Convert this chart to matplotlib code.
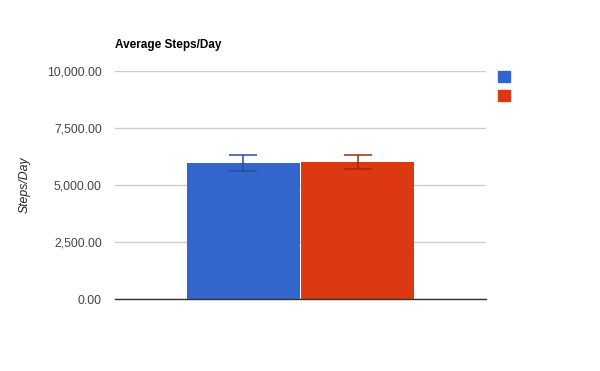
import matplotlib
matplotlib.use("Agg")
import matplotlib.pyplot as plt
from matplotlib.ticker import FuncFormatter

plt.rcParams['font.family'] = ['Liberation Sans', 'DejaVu Sans']

series_names = ["", ""]
means = [5965, 6010]
errors = [333, 320]
bar_colors = ["#3366cc", "#dc3912"]
err_colors = ["#2a4d96", "#a3280c"]
yticks = [0, 2500, 5000, 7500, 10000]

fig = plt.figure(figsize=(6, 3.71), dpi=100)
ax = fig.add_axes([115 / 600, 1 - 299 / 371, 371 / 600, 228 / 371])

width = 113 / 371
xs = [-width / 2 - 0.0015, width / 2 + 0.0015]
for x, m, e, c, ec, name in zip(xs, means, errors, bar_colors, err_colors, series_names):
    ax.bar(x, m, width=width, color=c, label=name, zorder=2)
    ax.errorbar(x, m, yerr=e, fmt='none', ecolor=ec, elinewidth=1.1,
                capsize=10, capthick=1.1, zorder=3)

ax.set_xlim(-0.5, 0.5)
ax.set_ylim(0, 10000)
ax.set_yticks(yticks)
ax.yaxis.set_major_formatter(FuncFormatter(lambda v, p: f"{v:,.2f}"))
ax.tick_params(axis='y', length=0, pad=9.5, labelsize=8.8, labelcolor='#444444')
ax.set_xticks([])
ax.grid(axis='y', color='#cccccc', linewidth=1, zorder=0)
for s in ['top', 'right', 'left']:
    ax.spines[s].set_visible(False)
ax.spines['bottom'].set_color('#333333')
ax.spines['bottom'].set_linewidth(1)
ax.spines['bottom'].set_zorder(4)

fig.text(115 / 600, 1 - 45 / 371, "Average Steps/Day", fontsize=8.5,
         fontweight='bold', va='center', ha='left')
fig.text(25 / 600, 1 - 185 / 371, "Steps/Day", fontsize=8.8, style='italic',
         rotation=90, va='center', ha='center', color='#222222')

for i, c in enumerate(bar_colors):
    fig.patches.append(plt.Rectangle((498 / 600, 1 - (82 + i * 19) / 371),
                                     12 / 600, 11 / 371, color=c,
                                     transform=fig.transFigure, figure=fig))

fig.savefig("out.png", dpi=100)
